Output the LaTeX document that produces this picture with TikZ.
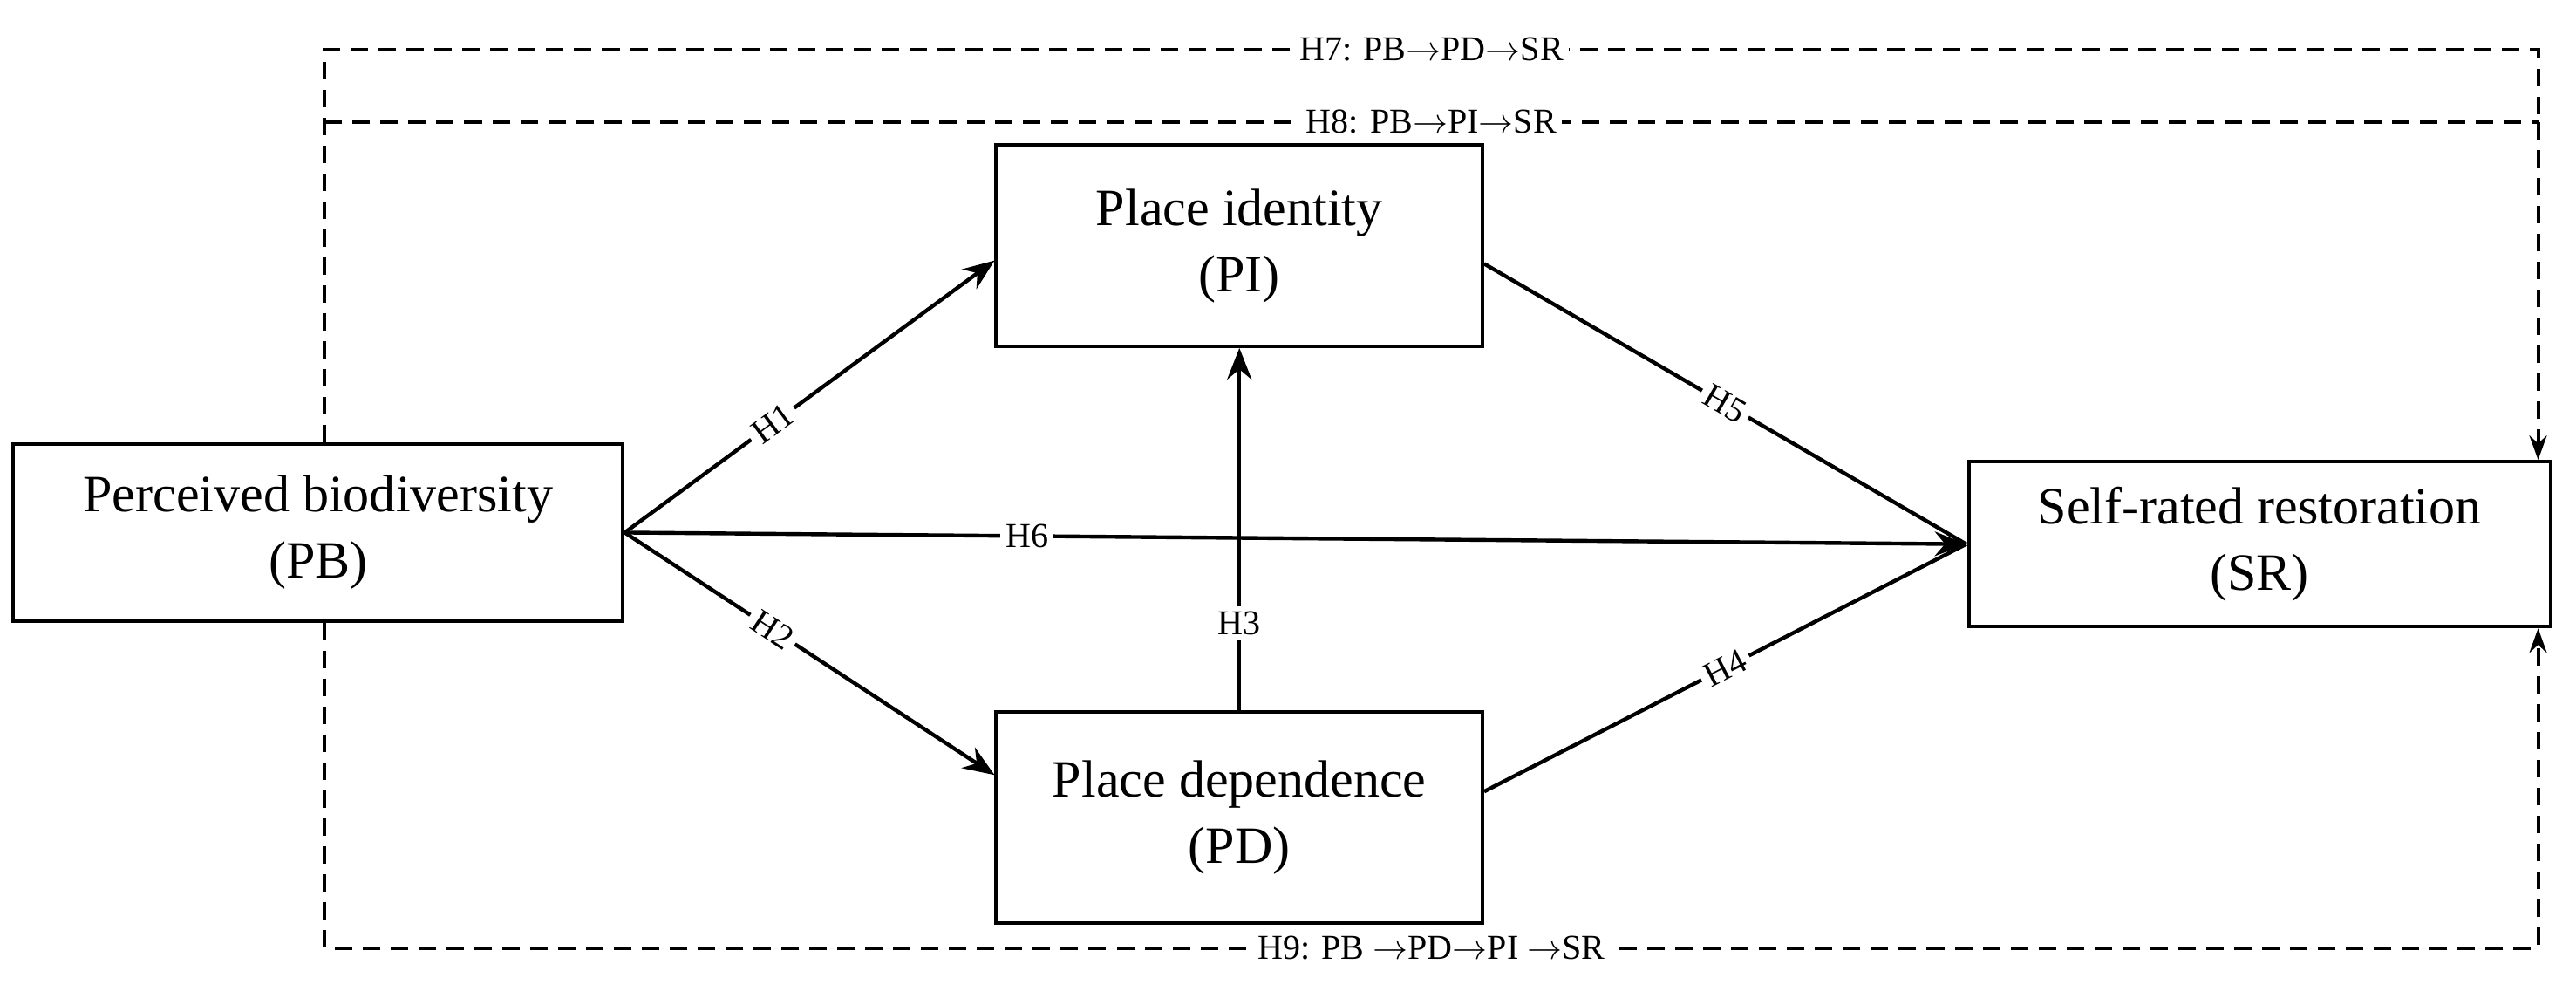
\documentclass[tikz,border=0pt]{standalone}
\usepackage{fontspec}
\setmainfont{Liberation Serif}
\usetikzlibrary{arrows.meta}
\begin{document}
\begin{tikzpicture}[x=0.472pt,y=-0.472pt,
  box/.style={draw,line width=1pt,align=center,font=\fontsize{15}{19}\selectfont,inner sep=0pt},
  arr/.style={line width=1.1pt,-{Stealth[length=9pt,width=7pt]}},
  dsh/.style={line width=1pt,dash pattern=on 5pt off 3pt},
  lab/.style={fill=white,font=\fontsize{10}{11}\selectfont,inner sep=1.5pt}]
\useasboundingbox (0,0) rectangle (1563,597);
\node[box,minimum width=370*0.472pt,minimum height=107*0.472pt] (PB) at (193,323) {Perceived biodiversity\\(PB)};
\node[box,minimum width=295*0.472pt,minimum height=122*0.472pt] (PI) at (752,149) {Place identity\\(PI)};
\node[box,minimum width=295*0.472pt,minimum height=128*0.472pt] (PD) at (752,496) {Place dependence\\(PD)};
\node[box,minimum width=353*0.472pt,minimum height=100*0.472pt] (SR) at (1371,330) {Self-rated restoration\\(SR)};
\coordinate (pbr) at (PB.east);
\coordinate (sri) at (1193,330);
\draw[arr] (pbr) -- node[lab,sloped,pos=0.4]{H1} (PI.west|-0,158);
\draw[arr] (pbr) -- node[lab,sloped,pos=0.4]{H2} (PD.west|-0,470);
\draw[arr] (pbr) -- node[lab,pos=0.3]{H6} (sri);
\draw[line width=1.1pt] (PI.east|-0,160) -- node[lab,sloped,pos=0.5]{H5} (sri);
\draw[line width=1.1pt] (PD.east|-0,480) -- node[lab,sloped,pos=0.5]{H4} (sri);
\draw[arr] (PD.north) -- node[lab,pos=0.24]{H3} (PI.south);
\coordinate (a1) at (197,30); \coordinate (a2) at (1540,30);
\coordinate (b1) at (197,74); \coordinate (b2) at (1540,74);
\coordinate (c1) at (197,575); \coordinate (c2) at (1540,575);
\draw[dsh] (PB.north-|a1) -- (a1) -- node[lab]{H7: PB$\rightarrow$PD$\rightarrow$SR} (a2) -- (b2);
\draw[dsh,-{Stealth[length=7pt,width=5pt]}] (b2) -- (SR.north-|b2);
\draw[dsh] (b1) -- node[lab]{H8: PB$\rightarrow$PI$\rightarrow$SR} (b2);
\draw[dsh,-{Stealth[length=7pt,width=5pt]}] (PB.south-|c1) -- (c1) -- node[lab]{H9: PB $\rightarrow$PD$\rightarrow$PI $\rightarrow$SR} (c2) -- (SR.south-|c2);
\end{tikzpicture}
\end{document}
